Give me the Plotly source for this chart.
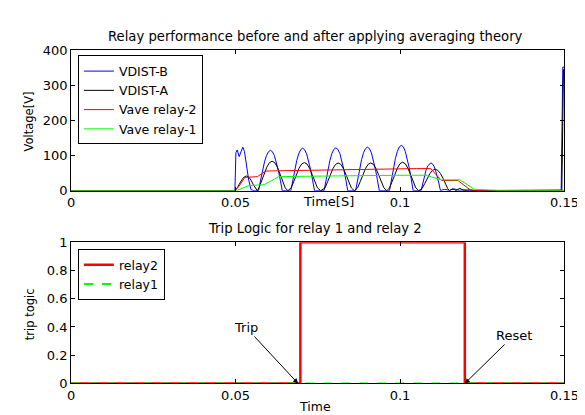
import plotly.graph_objects as go

W, H = 585, 415

# ---------------- data ----------------
t_vdist_b = [0, 0.0498, 0.0501, 0.0505, 0.0511, 0.0517, 0.0522, 0.0527, 0.0533, 0.0540, 0.0547, 0.0556, 0.0567,
             0.0570, 0.0576, 0.0582, 0.0588, 0.0594, 0.0600, 0.0606, 0.0612, 0.0618, 0.0624, 0.0630, 0.0636, 0.0642,
             0.0668, 0.0674, 0.0680, 0.0686, 0.0692, 0.0698, 0.0704, 0.0710, 0.0716, 0.0722, 0.0728, 0.0734, 0.0740,
             0.0769, 0.0775, 0.0781, 0.0787, 0.0793, 0.0799, 0.0805, 0.0811, 0.0817, 0.0823, 0.0829, 0.0835, 0.0841,
             0.0865, 0.0871, 0.0877, 0.0883, 0.0889, 0.0895, 0.0901, 0.0907, 0.0913, 0.0919, 0.0925, 0.0931, 0.0937,
             0.0968, 0.0974, 0.0980, 0.0986, 0.0992, 0.0998, 0.1004, 0.1010, 0.1016, 0.1022, 0.1028, 0.1034, 0.1040,
             0.1064, 0.1069, 0.1074, 0.1079, 0.1084, 0.1089, 0.1093, 0.1098, 0.1103, 0.1108, 0.1113, 0.1118, 0.1123,
             0.1135, 0.1150, 0.1165, 0.1180, 0.1195, 0.1210, 0.1300, 0.1400, 0.1490, 0.1495, 0.1500]
v_vdist_b = [0, 0, 108, 116, 97, 110, 124, 112, 75, 30, 3, 0, 0,
             0, 30, 58, 82, 100, 111, 115, 111, 100, 82, 58, 30, 0,
             0, 31, 61, 86, 105, 117, 121, 117, 105, 86, 61, 31, 0,
             0, 32, 61, 87, 106, 118, 122, 118, 106, 87, 61, 32, 0,
             0, 32, 62, 88, 108, 120, 124, 120, 108, 88, 62, 32, 0,
             0, 34, 65, 92, 112, 125, 129, 125, 112, 92, 65, 34, 0,
             0, 22, 42, 58, 70, 77, 79, 77, 70, 58, 42, 22, 0,
             4, 1, 5, 1, 3, 0, 1, 2, 2, 352, 352]

t_vdist_a = [0, 0.0498, 0.0505, 0.0512, 0.0519, 0.0526, 0.0533, 0.0540, 0.0547, 0.0554, 0.0561, 0.0566,
             0.0571, 0.0579, 0.0587, 0.0595, 0.0603, 0.0611, 0.0619, 0.0627, 0.0635, 0.0643, 0.0651, 0.0659,
             0.0669, 0.0677, 0.0685, 0.0693, 0.0701, 0.0709, 0.0717, 0.0725, 0.0733, 0.0741, 0.0749, 0.0759,
             0.0772, 0.0780, 0.0788, 0.0796, 0.0804, 0.0812, 0.0820, 0.0828, 0.0836, 0.0844, 0.0852, 0.0861,
             0.0871, 0.0879, 0.0887, 0.0895, 0.0903, 0.0911, 0.0919, 0.0927, 0.0935, 0.0943, 0.0951, 0.0960,
             0.0968, 0.0976, 0.0984, 0.0992, 0.1000, 0.1008, 0.1016, 0.1024, 0.1032, 0.1040, 0.1048, 0.1057,
             0.1067, 0.1075, 0.1083, 0.1091, 0.1099, 0.1107, 0.1115, 0.1123, 0.1131, 0.1139, 0.1145, 0.1151,
             0.1160, 0.1170, 0.1182, 0.1194, 0.1212, 0.1228, 0.1492, 0.1497, 0.1500]
v_vdist_a = [0, 0, 8, 20, 31, 39, 42, 39, 30, 17, 5, 0,
             8, 27, 48, 67, 80, 84, 80, 67, 48, 27, 8, 0,
             8, 26, 46, 64, 76, 80, 76, 64, 46, 26, 8, 0,
             8, 26, 45, 63, 75, 79, 75, 63, 45, 26, 8, 0,
             8, 26, 45, 63, 75, 79, 75, 63, 45, 26, 8, 0,
             8, 26, 46, 64, 77, 81, 77, 64, 46, 26, 8, 0,
             6, 20, 35, 49, 58, 61, 58, 49, 35, 20, 6, 0,
             6, 0, 7, 0, 3, 0, 0, 345, 345]

t_vave2 = [0, 0.0498, 0.0512, 0.0528, 0.0566, 0.0592, 0.0650, 0.0750, 0.0850, 0.0950, 0.1050, 0.1093,
           0.1126, 0.1176, 0.1214, 0.1250, 0.1500]
v_vave2 = [0, 0, 15, 38, 40, 56, 57, 59, 61, 62, 63, 63, 29, 29, 2, 0, 0]

t_vave1 = [0, 0.0503, 0.0520, 0.0542, 0.0587, 0.0631, 0.0700, 0.0800, 0.0900, 0.1000, 0.1079,
           0.1126, 0.1182, 0.1226, 0.1300, 0.1500]
v_vave1 = [0, 0, 7, 15, 17, 40, 41, 41, 43, 44, 44, 31, 31, 4, 1, 1]

t_relay2 = [0, 0.0697, 0.0697, 0.1197, 0.1197, 0.15]
s_relay2 = [0, 0, 1, 1, 0, 0]
t_relay1 = [0, 0.15]
s_relay1 = [0, 0]

x_ticks = [0, 0.05, 0.1, 0.15]
y1_ticks = [0, 100, 200, 300, 400]
y2_ticks = [0, 0.2, 0.4, 0.6, 0.8, 1]

title_top = "Relay performance before and after applying averaging theory"
title_bot = "Trip Logic for relay 1 and relay 2"

# ---------------- figure ----------------
FONT = "DejaVu Sans"
fig = go.Figure()

fig.add_trace(go.Scatter(x=t_vdist_b, y=v_vdist_b, mode="lines", name="VDIST-B",
                         line=dict(color="#0000ff", width=1),
                         xaxis="x", yaxis="y", legend="legend"))
fig.add_trace(go.Scatter(x=t_vdist_a, y=v_vdist_a, mode="lines", name="VDIST-A",
                         line=dict(color="#000000", width=1),
                         xaxis="x", yaxis="y", legend="legend"))
fig.add_trace(go.Scatter(x=t_vave2, y=v_vave2, mode="lines", name="Vave relay-2",
                         line=dict(color="#ff0000", width=1),
                         xaxis="x", yaxis="y", legend="legend"))
fig.add_trace(go.Scatter(x=t_vave1, y=v_vave1, mode="lines", name="Vave relay-1",
                         line=dict(color="#00ff00", width=1),
                         xaxis="x", yaxis="y", legend="legend"))

fig.add_trace(go.Scatter(x=t_relay2, y=s_relay2, mode="lines", name="relay2",
                         line=dict(color="#ff0000", width=2.5),
                         xaxis="x2", yaxis="y2", legend="legend2"))
fig.add_trace(go.Scatter(x=t_relay1, y=s_relay1, mode="lines", name="relay1",
                         line=dict(color="#00ff00", width=2, dash="dash"),
                         xaxis="x2", yaxis="y2", legend="legend2"))

x0, x1 = 61 / W, 570 / W
ax_common = dict(showline=True, linecolor="#000000", linewidth=1, mirror="ticks",
                 ticks="inside", ticklen=4, tickcolor="#000000", showgrid=False,
                 zeroline=False, tickfont=dict(family=FONT, size=13, color="#000000"))

fig.update_layout(
    width=W, height=H, autosize=False,
    margin=dict(l=0, r=0, t=0, b=0),
    paper_bgcolor="white", plot_bgcolor="white",
    font=dict(family=FONT, size=13, color="#000000"),
    xaxis=dict(domain=[x0, x1], range=[0, 0.15], tickvals=x_ticks, anchor="y", **ax_common),
    yaxis=dict(domain=[1 - 182.3 / H, 1 - 36.5 / H], range=[0, 400], tickvals=y1_ticks,
               anchor="x", **ax_common),
    xaxis2=dict(domain=[x0, x1], range=[0, 0.15], tickvals=x_ticks, anchor="y2", **ax_common),
    yaxis2=dict(domain=[1 - 382.3 / H, 1 - 235.7 / H], range=[0, 1], tickvals=y2_ticks,
                anchor="x2", **ax_common),
    legend=dict(x=68 / W, y=1 - 42 / H, xanchor="left", yanchor="top",
                bordercolor="#000000", borderwidth=1, bgcolor="white",
                font=dict(family=FONT, size=12.5), tracegroupgap=0, itemwidth=30),
    legend2=dict(x=68 / W, y=1 - 243 / H, xanchor="left", yanchor="top",
                 bordercolor="#000000", borderwidth=1, bgcolor="white",
                 font=dict(family=FONT, size=12.5), tracegroupgap=0, itemwidth=30),
    showlegend=True,
)

def paper_text(text, px, py, size=12, angle=0):
    fig.add_annotation(text=text, x=px / W, y=1 - py / H, xref="paper", yref="paper",
                       showarrow=False, textangle=angle, xanchor="center", yanchor="middle",
                       font=dict(family=FONT, size=size, color="#000000"))

paper_text(title_top, 313, 22, size=13.2)
paper_text(title_bot, 313, 221, size=13.2)
paper_text("Voltage[V]", 18, 110, size=11.5, angle=-90)
paper_text("trip togic", 18, 310, size=11.5, angle=-90)
paper_text("Time[S]", 327, 194, size=13)
paper_text("Time", 313, 406, size=12.5)

fig.add_annotation(text="Trip", x=0.069, y=0, xref="x2", yref="y2", showarrow=True,
                   ax=-52, ay=-56, arrowhead=2, arrowsize=1, arrowwidth=1, arrowcolor="#000000",
                   font=dict(family=FONT, size=13, color="#000000"))
fig.add_annotation(text="Reset", x=0.1197, y=0, xref="x2", yref="y2", showarrow=True,
                   ax=49, ay=-48, arrowhead=2, arrowsize=1, arrowwidth=1, arrowcolor="#000000",
                   font=dict(family=FONT, size=13, color="#000000"))

fig.write_html("out.html")
